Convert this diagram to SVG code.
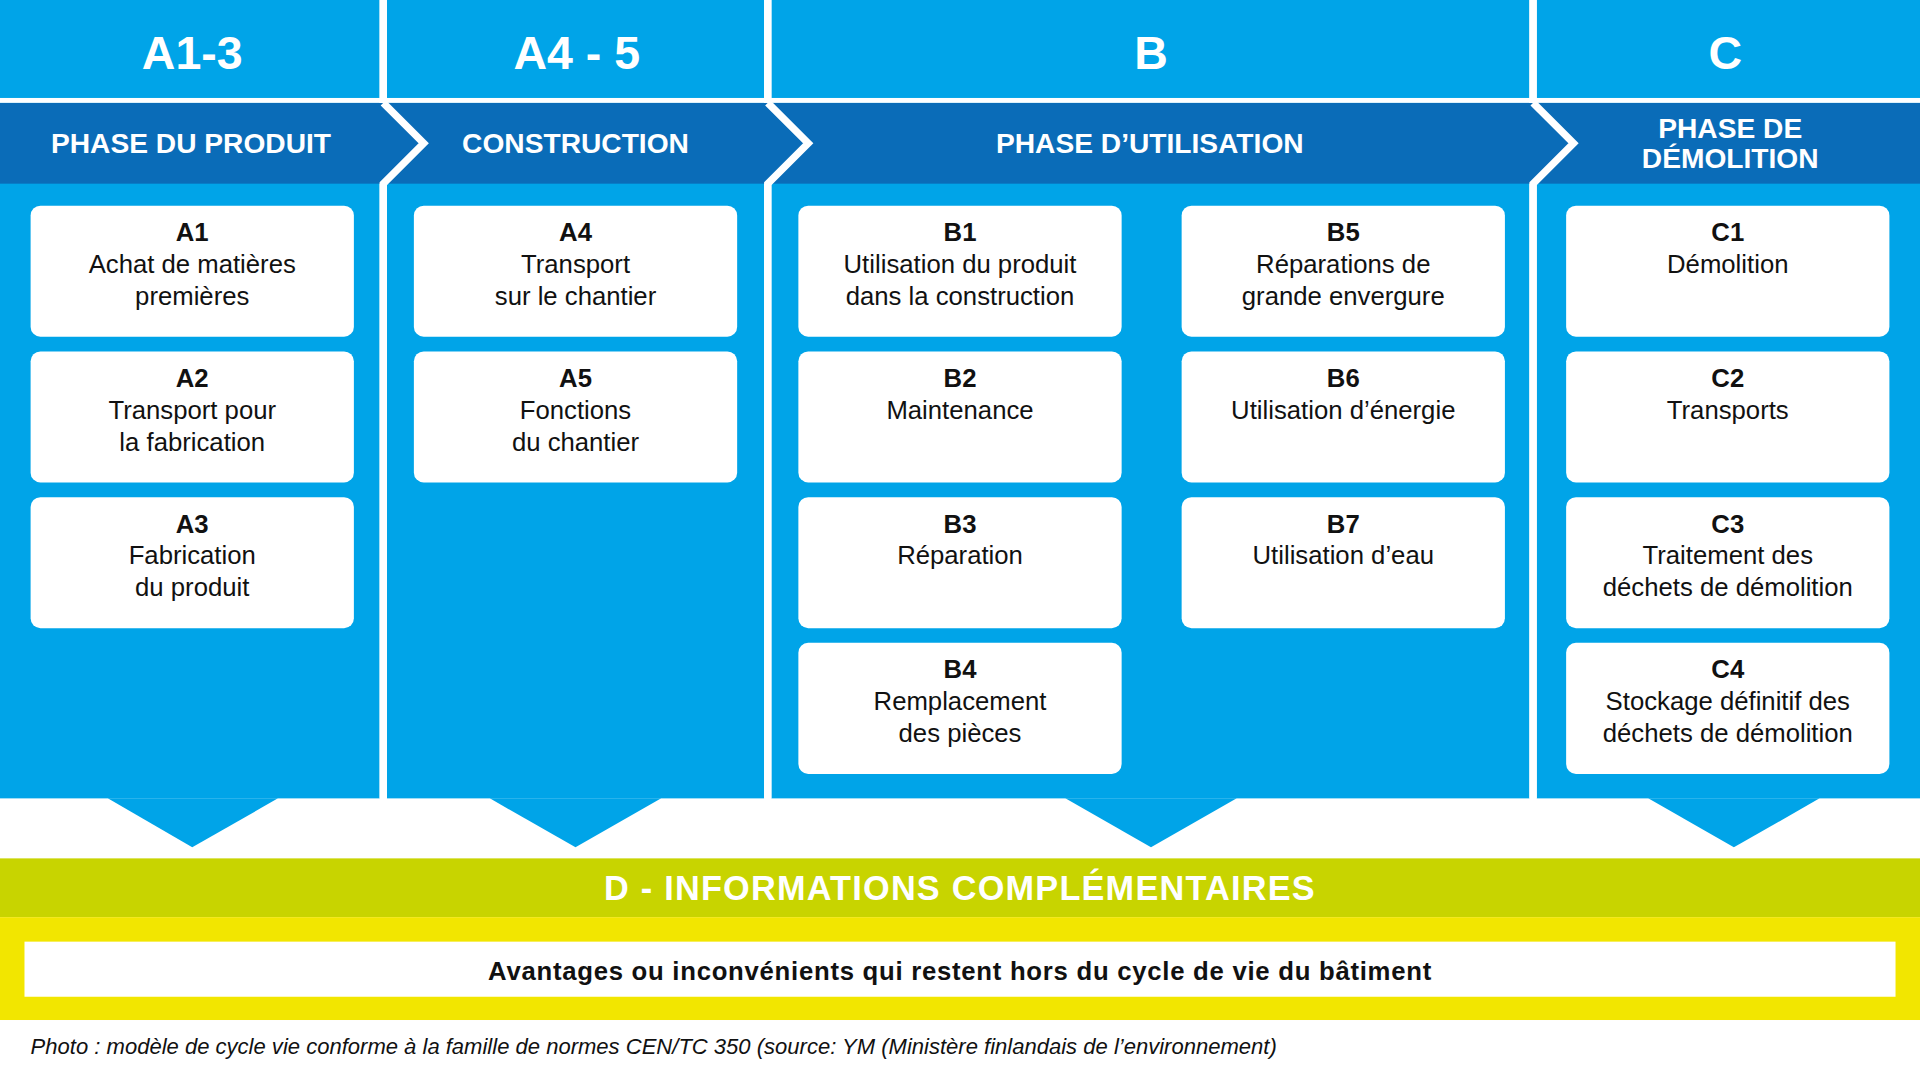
<svg xmlns="http://www.w3.org/2000/svg" width="1920" height="1080" viewBox="0 0 1920 1080">
<style>
.col{fill:#00a4e8}
.box{fill:#fff}
.h{font-family:"Liberation Sans",Arial,sans-serif;font-weight:bold;fill:#fff;text-anchor:middle}
.t{font-family:"Liberation Sans",Arial,sans-serif;font-size:21px;fill:#111;text-anchor:middle}
.b{font-weight:bold}
.sep{fill:none;stroke:#fff;stroke-width:6}
</style>
<rect width="1920" height="1080" fill="#fff"/>
<g transform="scale(1.2245)">
<g id="columns">
<rect class="col" x="0" y="0" width="310" height="652"/>
<rect class="col" x="316" y="0" width="308" height="652"/>
<rect class="col" x="630" y="0" width="619" height="652"/>
<rect class="col" x="1255" y="0" width="313" height="652"/>
<rect x="0" y="84" width="1568" height="66" fill="#0a6cb8"/>
<rect x="0" y="80" width="1568" height="4" fill="#fff"/>
<polyline class="sep" points="313,84 346,117 313,150 313,652"/>
<polyline class="sep" points="627,84 660,117 627,150 627,652"/>
<polyline class="sep" points="1252,84 1285,117 1252,150 1252,652"/>
<rect x="310" y="0" width="6" height="84" fill="#fff"/>
<rect x="624" y="0" width="6" height="84" fill="#fff"/>
<rect x="1249" y="0" width="6" height="84" fill="#fff"/>
<polygon class="col" points="88,652 227,652 157,692"/>
<polygon class="col" points="400,652 540,652 470,692"/>
<polygon class="col" points="870,652 1010,652 940,692"/>
<polygon class="col" points="1346,652 1486,652 1416,692"/>
</g>
<g id="headers">
<text class="h" x="157" y="56" font-size="38">A1-3</text>
<text class="h" x="471" y="56" font-size="38">A4 - 5</text>
<text class="h" x="940" y="56" font-size="38">B</text>
<text class="h" x="1409" y="56" font-size="38">C</text>
<text class="h" x="156" y="125" font-size="23">PHASE DU PRODUIT</text>
<text class="h" x="470" y="125" font-size="23">CONSTRUCTION</text>
<text class="h" x="939" y="125" font-size="23">PHASE D’UTILISATION</text>
<text class="h" x="1413" y="113" font-size="23">PHASE DE</text>
<text class="h" x="1413" y="137" font-size="23">DÉMOLITION</text>
</g>
<g id="A1"><rect class="box" x="25" y="168" width="264" height="107" rx="8"/><text class="t" x="157"><tspan class="b" x="157" y="197">A1</tspan><tspan x="157" y="223">Achat de matières</tspan><tspan x="157" y="249">premières</tspan></text></g>
<g id="A2"><rect class="box" x="25" y="287" width="264" height="107" rx="8"/><text class="t"><tspan class="b" x="157" y="316">A2</tspan><tspan x="157" y="342">Transport pour</tspan><tspan x="157" y="368">la fabrication</tspan></text></g>
<g id="A3"><rect class="box" x="25" y="406" width="264" height="107" rx="8"/><text class="t"><tspan class="b" x="157" y="435">A3</tspan><tspan x="157" y="461">Fabrication</tspan><tspan x="157" y="487">du produit</tspan></text></g>
<g id="A4"><rect class="box" x="338" y="168" width="264" height="107" rx="8"/><text class="t"><tspan class="b" x="470" y="197">A4</tspan><tspan x="470" y="223">Transport</tspan><tspan x="470" y="249">sur le chantier</tspan></text></g>
<g id="A5"><rect class="box" x="338" y="287" width="264" height="107" rx="8"/><text class="t"><tspan class="b" x="470" y="316">A5</tspan><tspan x="470" y="342">Fonctions</tspan><tspan x="470" y="368">du chantier</tspan></text></g>
<g id="B1"><rect class="box" x="652" y="168" width="264" height="107" rx="8"/><text class="t"><tspan class="b" x="784" y="197">B1</tspan><tspan x="784" y="223">Utilisation du produit</tspan><tspan x="784" y="249">dans la construction</tspan></text></g>
<g id="B2"><rect class="box" x="652" y="287" width="264" height="107" rx="8"/><text class="t"><tspan class="b" x="784" y="316">B2</tspan><tspan x="784" y="342">Maintenance</tspan></text></g>
<g id="B3"><rect class="box" x="652" y="406" width="264" height="107" rx="8"/><text class="t"><tspan class="b" x="784" y="435">B3</tspan><tspan x="784" y="461">Réparation</tspan></text></g>
<g id="B4"><rect class="box" x="652" y="525" width="264" height="107" rx="8"/><text class="t"><tspan class="b" x="784" y="554">B4</tspan><tspan x="784" y="580">Remplacement</tspan><tspan x="784" y="606">des pièces</tspan></text></g>
<g id="B5"><rect class="box" x="965" y="168" width="264" height="107" rx="8"/><text class="t"><tspan class="b" x="1097" y="197">B5</tspan><tspan x="1097" y="223">Réparations de</tspan><tspan x="1097" y="249">grande envergure</tspan></text></g>
<g id="B6"><rect class="box" x="965" y="287" width="264" height="107" rx="8"/><text class="t"><tspan class="b" x="1097" y="316">B6</tspan><tspan x="1097" y="342">Utilisation d’énergie</tspan></text></g>
<g id="B7"><rect class="box" x="965" y="406" width="264" height="107" rx="8"/><text class="t"><tspan class="b" x="1097" y="435">B7</tspan><tspan x="1097" y="461">Utilisation d’eau</tspan></text></g>
<g id="C1"><rect class="box" x="1279" y="168" width="264" height="107" rx="8"/><text class="t"><tspan class="b" x="1411" y="197">C1</tspan><tspan x="1411" y="223">Démolition</tspan></text></g>
<g id="C2"><rect class="box" x="1279" y="287" width="264" height="107" rx="8"/><text class="t"><tspan class="b" x="1411" y="316">C2</tspan><tspan x="1411" y="342">Transports</tspan></text></g>
<g id="C3"><rect class="box" x="1279" y="406" width="264" height="107" rx="8"/><text class="t"><tspan class="b" x="1411" y="435">C3</tspan><tspan x="1411" y="461">Traitement des</tspan><tspan x="1411" y="487">déchets de démolition</tspan></text></g>
<g id="C4"><rect class="box" x="1279" y="525" width="264" height="107" rx="8"/><text class="t"><tspan class="b" x="1411" y="554">C4</tspan><tspan x="1411" y="580">Stockage définitif des</tspan><tspan x="1411" y="606">déchets de démolition</tspan></text></g>
<g id="D">
<rect x="0" y="701" width="1568" height="48" fill="#c8d400"/>
<text class="h" x="784" y="735" font-size="28" letter-spacing="1">D - INFORMATIONS COMPLÉMENTAIRES</text>
<rect x="0" y="749" width="1568" height="84" fill="#f2e600"/>
<rect x="20" y="769" width="1528" height="45" fill="#fff"/>
<text class="t b" x="784" y="800" font-size="23" letter-spacing="0.6">Avantages ou inconvénients qui restent hors du cycle de vie du bâtiment</text>
</g>
<text x="25" y="861" font-family="'Liberation Sans',Arial,sans-serif" font-size="18" font-style="italic" fill="#111">Photo : modèle de cycle vie conforme à la famille de normes CEN/TC 350 (source: YM (Ministère finlandais de l’environnement)</text>
</g>
</svg>
